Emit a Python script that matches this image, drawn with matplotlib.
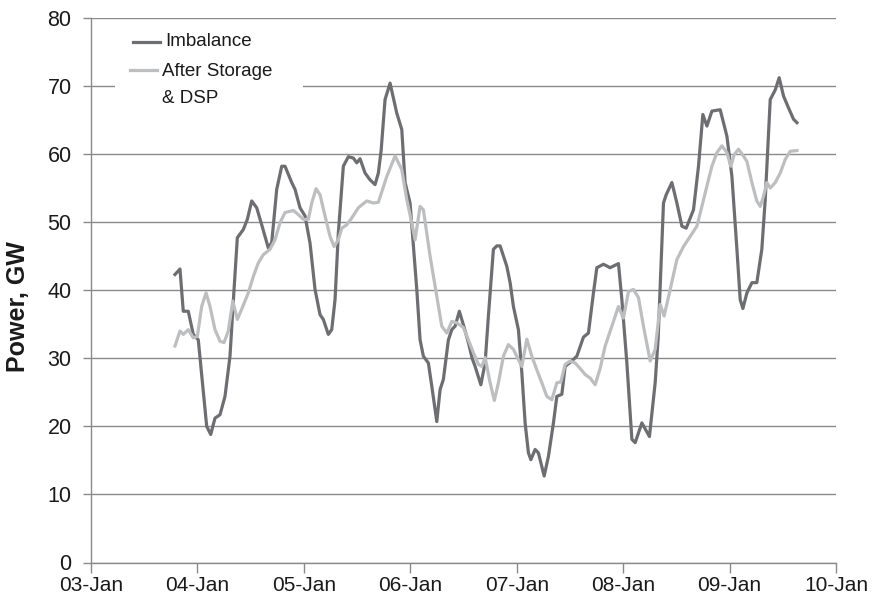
import matplotlib.pyplot as plt
from matplotlib.lines import Line2D
from matplotlib.patches import Rectangle

plt.rcParams["font.family"] = ["Liberation Sans", "DejaVu Sans"]

# days since 03-Jan 00:00
imb_t = [0.789, 0.836, 0.867, 0.914, 0.961, 1.008, 1.087, 1.125, 1.165, 1.212,
         1.259, 1.306, 1.344, 1.375, 1.431, 1.469, 1.510, 1.557, 1.604, 1.666,
         1.698, 1.745, 1.792, 1.823, 1.886, 1.917, 1.964, 2.011, 2.058, 2.105,
         2.152, 2.183, 2.230, 2.262, 2.293, 2.324, 2.371, 2.418, 2.465, 2.497,
         2.528, 2.575, 2.622, 2.669, 2.700, 2.726, 2.763, 2.810, 2.873, 2.920,
         2.951, 2.998, 3.061, 3.092, 3.123, 3.170, 3.202, 3.249, 3.280, 3.311,
         3.358, 3.390, 3.421, 3.461, 3.499, 3.546, 3.581, 3.609, 3.663, 3.703,
         3.734, 3.781, 3.813, 3.844, 3.907, 3.938, 3.969, 4.016, 4.048, 4.079,
         4.110, 4.133, 4.173, 4.204, 4.258, 4.298, 4.345, 4.377, 4.424, 4.455,
         4.518, 4.565, 4.627, 4.674, 4.721, 4.753, 4.815, 4.878, 4.956, 4.988,
         5.035, 5.082, 5.113, 5.176, 5.247, 5.301, 5.329, 5.357, 5.379, 5.404,
         5.458, 5.505, 5.552, 5.592, 5.661, 5.708, 5.749, 5.787, 5.834, 5.912,
         5.975, 6.022, 6.069, 6.100, 6.125, 6.163, 6.210, 6.256, 6.303, 6.335,
         6.382, 6.429, 6.466, 6.507, 6.553, 6.601, 6.633]
imb_v = [42.3, 43.1, 36.9, 36.9, 33.5, 32.7, 20.0, 18.8, 21.2, 21.7,
         24.4, 30.3, 40.1, 47.7, 48.9, 50.4, 53.1, 52.1, 49.6, 46.2,
         47.0, 54.8, 58.2, 58.2, 55.8, 54.8, 52.1, 50.9, 46.9, 40.1,
         36.4, 35.7, 33.5, 34.2, 38.6, 48.4, 58.2, 59.6, 59.4, 58.7,
         59.3, 57.2, 56.2, 55.5, 57.2, 60.5, 68.0, 70.4, 66.0, 63.6,
         55.8, 52.8, 40.1, 32.7, 30.3, 29.3, 25.9, 20.7, 25.4, 26.9,
         32.7, 34.2, 34.7, 36.9, 34.9, 32.3, 30.0, 28.8, 26.1, 29.3,
         36.2, 46.0, 46.5, 46.5, 43.5, 41.1, 37.6, 34.2, 27.9, 20.5,
         16.1, 15.1, 16.6, 16.1, 12.7, 15.6, 20.5, 24.4, 24.7, 28.8,
         29.6, 30.3, 33.1, 33.7, 39.6, 43.3, 43.8, 43.3, 43.9, 38.6,
         29.3, 18.1, 17.6, 20.5, 18.5, 26.4, 33.0, 44.0, 52.8, 54.0,
         55.8, 52.8, 49.4, 49.1, 51.8, 58.2, 65.8, 64.1, 66.3, 66.5,
         62.6, 56.7, 46.0, 38.6, 37.3, 39.6, 41.1, 41.1, 46.0, 53.3,
         68.0, 69.4, 71.2, 68.5, 66.8, 65.1, 64.6]

dsp_t = [0.789, 0.836, 0.867, 0.914, 0.961, 0.999, 1.040, 1.081, 1.118, 1.165,
         1.212, 1.250, 1.290, 1.332, 1.375, 1.416, 1.478, 1.525, 1.572, 1.619,
         1.682, 1.729, 1.776, 1.823, 1.901, 1.948, 1.995, 2.042, 2.074, 2.115,
         2.152, 2.199, 2.246, 2.284, 2.324, 2.356, 2.403, 2.450, 2.512, 2.591,
         2.653, 2.700, 2.779, 2.857, 2.920, 2.967, 3.014, 3.045, 3.092, 3.123,
         3.186, 3.249, 3.296, 3.343, 3.390, 3.437, 3.499, 3.546, 3.593, 3.640,
         3.672, 3.703, 3.750, 3.790, 3.828, 3.875, 3.922, 3.969, 4.016, 4.048,
         4.095, 4.142, 4.189, 4.236, 4.283, 4.330, 4.377, 4.414, 4.455, 4.502,
         4.549, 4.596, 4.643, 4.690, 4.737, 4.784, 4.831, 4.894, 4.956, 5.003,
         5.050, 5.097, 5.144, 5.191, 5.254, 5.301, 5.348, 5.385, 5.442, 5.505,
         5.567, 5.630, 5.693, 5.740, 5.787, 5.834, 5.881, 5.928, 5.975, 6.012,
         6.043, 6.084, 6.131, 6.163, 6.210, 6.256, 6.288, 6.319, 6.350, 6.382,
         6.429, 6.476, 6.523, 6.570, 6.633]
dsp_v = [31.8, 34.0, 33.5, 34.2, 33.0, 33.2, 37.6, 39.6, 37.6, 34.2,
         32.5, 32.3, 34.0, 38.4, 35.7, 37.2, 39.6, 42.0, 44.0, 45.2,
         46.0, 47.4, 49.9, 51.4, 51.7, 51.1, 50.4, 50.4, 52.8, 54.9,
         54.0, 50.9, 47.9, 46.4, 47.4, 49.1, 49.6, 50.6, 52.1, 53.1,
         52.8, 52.9, 56.7, 59.7, 57.7, 53.3, 49.9, 47.4, 52.3, 51.8,
         45.0, 39.1, 34.7, 33.7, 35.4, 35.2, 34.5, 32.7, 30.8, 29.1,
         28.8, 30.1, 26.4, 23.8, 26.4, 30.3, 32.0, 31.3, 29.8, 28.8,
         32.8, 30.3, 28.3, 26.4, 24.4, 23.9, 26.4, 26.5, 29.1, 29.6,
         29.3, 28.5, 27.6, 27.1, 26.1, 28.5, 31.8, 34.7, 37.6, 35.9,
         39.8, 40.1, 38.9, 34.7, 29.6, 31.3, 37.9, 36.2, 40.1, 44.5,
         46.4, 47.9, 49.4, 52.3, 55.3, 58.2, 60.2, 61.2, 60.2, 58.2,
         59.9, 60.7, 59.7, 58.9, 55.8, 53.1, 52.3, 53.8, 55.8, 55.0,
         55.8, 57.2, 59.2, 60.4, 60.5]

day_ticks = [0, 1, 2, 3, 4, 5, 6, 7]
day_labels = ["03-Jan", "04-Jan", "05-Jan", "06-Jan", "07-Jan", "08-Jan", "09-Jan", "10-Jan"]
y_ticks = [0, 10, 20, 30, 40, 50, 60, 70, 80]

GRID = "#8a8a8a"
DARK = "#6d6e71"
LIGHT = "#bcbec0"
TEXT = "#1a1a1a"

fig = plt.figure(figsize=(8.72, 5.97), dpi=100)
ax = fig.add_axes([91 / 872, 1 - 562.5 / 597, (836 - 91) / 872, (562.5 - 17.8) / 597])

ax.plot(imb_t, imb_v, color=DARK, linewidth=2.3, solid_joinstyle="round", zorder=3)
ax.plot(dsp_t, dsp_v, color=LIGHT, linewidth=2.3, solid_joinstyle="round", zorder=4)

ax.set_xlim(0, 7)
ax.set_ylim(0, 80)
ax.set_xticks(day_ticks)
ax.set_xticklabels(day_labels)
ax.set_yticks(y_ticks)

ax.grid(True, axis="y", color=GRID, linewidth=1.0)
ax.set_axisbelow(True)
for side in ["top", "right"]:
    ax.spines[side].set_visible(False)
for side in ["left", "bottom"]:
    ax.spines[side].set_color(GRID)
    ax.spines[side].set_linewidth(1.0)

ax.tick_params(axis="x", direction="out", length=7, width=1, color=GRID,
               labelsize=15, pad=2.5, labelcolor=TEXT)
ax.tick_params(axis="y", direction="out", length=6, width=1, color=GRID,
               labelsize=15.5, pad=8, labelcolor=TEXT)

ax.set_ylabel("Power, GW", fontsize=18, fontweight="bold", color=TEXT)
ax.yaxis.set_label_coords(-0.082, 0.47)

# legend drawn by hand: white box over the 70 gridline, handle on first line
tr = ax.transAxes
ax.add_patch(Rectangle((0.032, 0.83), 0.253, 0.15, transform=tr,
                       facecolor="white", edgecolor="none", zorder=5))
ax.add_line(Line2D([0.056, 0.093], [0.956, 0.956], transform=tr,
                   color=DARK, linewidth=2.3, zorder=6))
ax.add_line(Line2D([0.052, 0.089], [0.904, 0.904], transform=tr,
                   color=LIGHT, linewidth=2.3, zorder=6))
ax.text(0.099, 0.956, "Imbalance", transform=tr, fontsize=13.5, color=TEXT,
        va="center", ha="left", zorder=7)
ax.text(0.095, 0.902, "After Storage", transform=tr, fontsize=13.5, color=TEXT,
        va="center", ha="left", zorder=7)
ax.text(0.095, 0.851, "& DSP", transform=tr, fontsize=13.5, color=TEXT,
        va="center", ha="left", zorder=7)

fig.savefig("out.png", dpi=100)
